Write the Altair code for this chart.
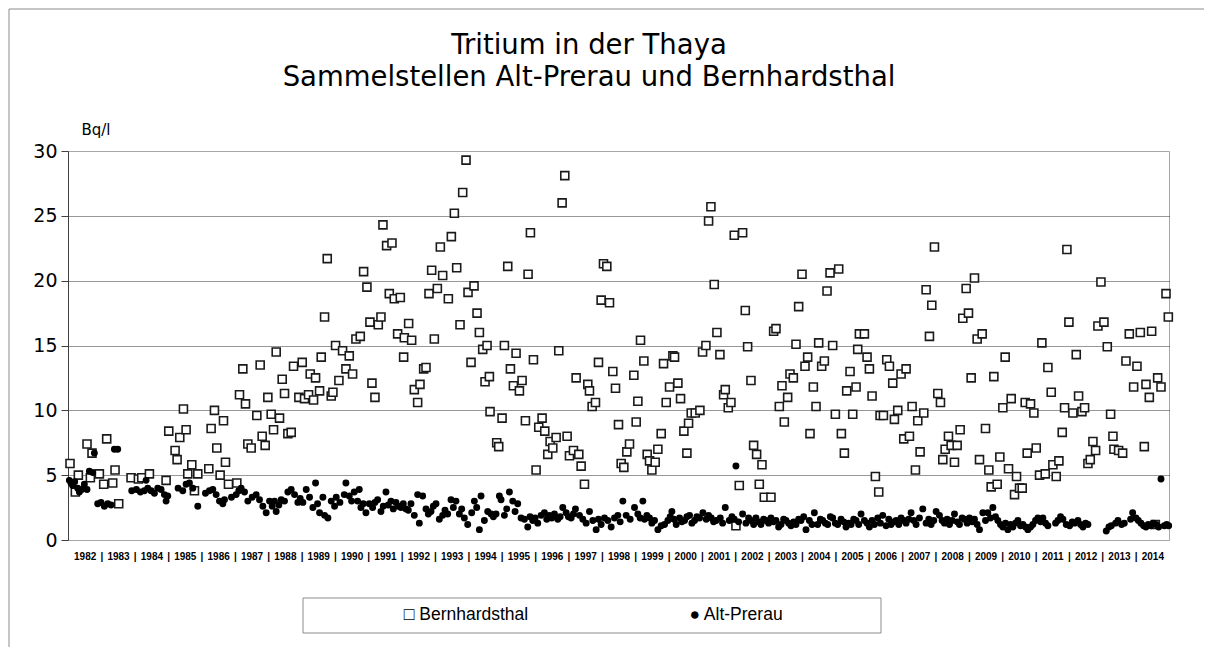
import altair as alt
import pandas as pd

# ---------------- data ----------------
bern_year = [
    1982.06, 1982.22, 1982.31, 1982.57, 1982.67, 1982.72, 1982.94, 1983.07, 1983.16, 1983.34,
    1983.41, 1983.52, 1983.89, 1984.11, 1984.21, 1984.44, 1984.94, 1985.02, 1985.21, 1985.27,
    1985.35, 1985.46, 1985.54, 1985.59, 1985.71, 1985.79, 1985.89, 1986.22, 1986.29, 1986.39,
    1986.46, 1986.56, 1986.66, 1986.72, 1986.81, 1987.06, 1987.14, 1987.24, 1987.32, 1987.39,
    1987.49, 1987.66, 1987.76, 1987.82, 1987.91, 1987.99, 1988.09, 1988.16, 1988.24, 1988.34,
    1988.42, 1988.49, 1988.59, 1988.69, 1988.76, 1988.92, 1989.02, 1989.09, 1989.21, 1989.26,
    1989.36, 1989.42, 1989.54, 1989.59, 1989.69, 1989.77, 1989.89, 1989.94, 1990.02, 1990.12,
    1990.23, 1990.33, 1990.43, 1990.53, 1990.63, 1990.76, 1990.86, 1990.96, 1991.05, 1991.11,
    1991.20, 1991.30, 1991.38, 1991.44, 1991.55, 1991.63, 1991.71, 1991.78, 1991.88, 1991.96,
    1992.06, 1992.08, 1992.21, 1992.30, 1992.38, 1992.48, 1992.55, 1992.66, 1992.73, 1992.82,
    1992.90, 1992.98, 1993.07, 1993.16, 1993.23, 1993.40, 1993.49, 1993.58, 1993.65, 1993.75,
    1993.83, 1993.93, 1993.99, 1994.08, 1994.17, 1994.26, 1994.33, 1994.43, 1994.50, 1994.56,
    1994.63, 1994.65, 1994.85, 1994.91, 1995.01, 1995.08, 1995.18, 1995.26, 1995.35, 1995.43,
    1995.53, 1995.61, 1995.71, 1995.79, 1995.86, 1995.95, 1996.03, 1996.11, 1996.21, 1996.29,
    1996.38, 1996.45, 1996.53, 1996.63, 1996.71, 1996.81, 1996.89, 1996.96, 1997.03, 1997.15,
    1997.23, 1997.31, 1997.38, 1997.48, 1997.58, 1997.63, 1997.71, 1997.81, 1997.90, 1997.98,
    1998.05, 1998.15, 1998.23, 1998.33, 1998.41, 1998.50, 1998.58, 1998.66, 1998.75, 1998.83,
    1998.96, 1999.03, 1999.08, 1999.16, 1999.26, 1999.36, 1999.43, 1999.50, 1999.60, 1999.68,
    1999.78, 1999.85, 1999.93, 2000.03, 2000.13, 2000.18, 2000.28, 2000.36, 2000.46, 2000.55,
    2000.60, 2000.68, 2000.80, 2000.94, 2001.02, 2001.12, 2001.20, 2001.27, 2001.37, 2001.45,
    2001.54, 2001.65, 2001.70, 2001.79, 2001.87, 2001.97, 2002.02, 2002.12, 2002.22, 2002.30,
    2002.37, 2002.47, 2002.55, 2002.64, 2002.72, 2002.80, 2002.87, 2003.07, 2003.15, 2003.22,
    2003.32, 2003.40, 2003.47, 2003.57, 2003.64, 2003.74, 2003.82, 2003.90, 2004.00, 2004.09,
    2004.17, 2004.24, 2004.34, 2004.42, 2004.50, 2004.59, 2004.67, 2004.75, 2004.84, 2004.92,
    2005.00, 2005.10, 2005.18, 2005.27, 2005.34, 2005.44, 2005.52, 2005.62, 2005.67, 2005.72,
    2005.87, 2005.95, 2006.02, 2006.10, 2006.20, 2006.30, 2006.34, 2006.44, 2006.54, 2006.62,
    2006.72, 2006.77, 2006.87, 2006.97, 2007.05, 2007.12, 2007.22, 2007.30, 2007.40, 2007.47,
    2007.54, 2007.65, 2007.72, 2007.82, 2007.89, 2007.97, 2008.07, 2008.15, 2008.22, 2008.29,
    2008.39, 2008.47, 2008.57, 2008.65, 2008.74, 2008.82, 2008.92, 2008.99, 2009.07, 2009.17,
    2009.25, 2009.32, 2009.40, 2009.50, 2009.60, 2009.67, 2009.75, 2009.85, 2009.93, 2010.02,
    2010.09, 2010.19, 2010.27, 2010.37, 2010.43, 2010.52, 2010.60, 2010.69, 2010.75, 2010.85,
    2010.95, 2011.02, 2011.12, 2011.19, 2011.29, 2011.37, 2011.47, 2011.52, 2011.62, 2011.70,
    2011.80, 2011.87, 2011.94, 2012.00, 2012.12, 2012.22, 2012.29, 2012.39, 2012.47, 2012.57,
    2012.64, 2012.72, 2012.80, 2012.87, 2012.96, 2013.05, 2013.15, 2013.25, 2013.32, 2013.35,
    2013.49, 2013.61, 2013.71, 2013.81, 2013.94, 2014.04, 2014.14, 2014.26, 2014.31, 2014.41,
    2014.48, 2014.59, 2014.66, 2014.76, 2014.91, 2014.98,
]
bern_value = [
    5.9, 3.7, 5.0, 7.4, 4.8, 6.7, 5.1, 4.3, 7.8, 4.4,
    5.4, 2.8, 4.8, 4.7, 4.8, 5.1, 4.6, 8.4, 6.9, 6.2,
    7.9, 10.1, 8.5, 5.1, 5.8, 3.8, 5.1, 5.5, 8.6, 10.0,
    7.1, 5.0, 9.2, 6.0, 4.3, 4.4, 11.2, 13.2, 10.5, 7.4,
    7.1, 9.6, 13.5, 8.0, 7.3, 11.0, 9.7, 8.5, 14.5, 9.4,
    12.4, 11.3, 8.2, 8.3, 13.4, 11.0, 13.7, 10.9, 11.2, 12.8,
    10.8, 12.5, 11.5, 14.1, 17.2, 21.7, 11.1, 11.4, 15.0, 12.3,
    14.6, 13.2, 14.2, 12.8, 15.5, 15.7, 20.7, 19.5, 16.8, 12.1,
    11.0, 16.6, 17.2, 24.3, 22.7, 19.0, 22.9, 18.6, 15.9, 18.7,
    14.1, 15.6, 16.7, 15.4, 11.6, 10.6, 12.0, 13.2, 13.3, 19.0,
    20.8, 15.5, 19.4, 22.6, 20.4, 18.6, 23.4, 25.2, 21.0, 16.6,
    26.8, 29.3, 19.1, 13.7, 19.6, 17.5, 16.0, 14.7, 12.2, 15.0,
    12.6, 9.9, 7.5, 7.2, 9.4, 15.0, 21.1, 13.2, 11.9, 14.4,
    11.5, 12.3, 9.2, 20.5, 23.7, 13.9, 5.4, 8.7, 9.4, 8.4,
    6.6, 7.6, 7.1, 7.9, 14.6, 26.0, 28.1, 8.0, 6.5, 6.9,
    12.5, 6.6, 5.7, 4.3, 12.0, 11.5, 10.3, 10.6, 13.7, 18.5,
    21.3, 21.1, 18.3, 13.0, 11.7, 8.9, 5.9, 5.6, 6.8, 7.4,
    12.7, 9.1, 10.7, 15.4, 13.8, 6.6, 6.1, 5.4, 6.0, 7.0,
    8.2, 13.6, 10.6, 11.8, 14.2, 14.1, 12.1, 10.9, 8.4, 6.7,
    9.0, 9.8, 9.8, 10.0, 14.5, 15.0, 24.6, 25.7, 19.7, 16.0,
    14.3, 11.2, 11.6, 10.2, 10.6, 23.5, 1.1, 4.2, 23.7, 17.7,
    14.9, 12.3, 7.3, 6.6, 4.3, 5.8, 3.3, 3.3, 16.1, 16.3,
    10.3, 11.9, 9.1, 11.0, 12.8, 12.5, 15.1, 18.0, 20.5, 13.4,
    14.1, 8.2, 11.8, 10.3, 15.2, 13.4, 13.8, 19.2, 20.6, 15.0,
    9.7, 20.9, 8.2, 6.7, 11.5, 13.0, 9.7, 11.8, 14.7, 15.9,
    15.9, 14.1, 13.2, 11.1, 4.9, 3.7, 9.6, 9.6, 13.9, 13.4,
    12.1, 9.3, 10.0, 12.8, 7.8, 13.2, 8.0, 10.3, 5.4, 9.2,
    6.8, 9.8, 19.3, 15.7, 18.1, 22.6, 11.3, 10.6, 6.2, 7.0,
    8.0, 7.3, 6.0, 7.3, 8.5, 17.1, 19.4, 17.5, 12.5, 20.2,
    15.5, 6.2, 15.9, 8.6, 5.4, 4.1, 12.6, 4.3, 6.4, 10.2,
    14.1, 5.5, 10.9, 3.5, 4.9, 4.0, 4.0, 10.6, 6.7, 10.5,
    9.8, 7.1, 5.0, 15.2, 5.1, 13.3, 11.4, 5.8, 4.9, 6.1,
    8.3, 10.2, 22.4, 16.8, 9.8, 14.3, 11.1, 9.9, 10.2, 5.9,
    6.2, 7.6, 6.9, 16.5, 19.9, 16.8, 14.9, 9.7, 8.0, 7.0,
    6.9, 6.7, 13.8, 15.9, 11.8, 13.4, 16.0, 7.2, 12.0, 11.0,
    16.1, 1.2, 12.5, 11.8, 19.0, 17.2,
]

prerau_year = [
    1982.04, 1982.09, 1982.14, 1982.20, 1982.29, 1982.34, 1982.41, 1982.49, 1982.57, 1982.64,
    1982.74, 1982.79, 1982.89, 1982.99, 1983.09, 1983.19, 1983.29, 1983.39, 1983.49, 1983.91,
    1984.05, 1984.17, 1984.29, 1984.34, 1984.39, 1984.49, 1984.59, 1984.69, 1984.79, 1984.89,
    1984.94, 1984.99, 1985.30, 1985.44, 1985.54, 1985.64, 1985.74, 1985.89, 1986.12, 1986.24,
    1986.34, 1986.44, 1986.54, 1986.64, 1986.69, 1986.90, 1987.04, 1987.12, 1987.19, 1987.29,
    1987.39, 1987.52, 1987.64, 1987.74, 1987.84, 1987.94, 1988.04, 1988.12, 1988.19, 1988.24,
    1988.32, 1988.39, 1988.49, 1988.59, 1988.69, 1988.79, 1988.89, 1988.96, 1989.04, 1989.14,
    1989.24, 1989.34, 1989.42, 1989.48, 1989.54, 1989.64, 1989.69, 1989.79, 1989.89, 1989.99,
    1990.04, 1990.15, 1990.28, 1990.33, 1990.43, 1990.50, 1990.58, 1990.68, 1990.73, 1990.78,
    1990.85, 1990.93, 1991.03, 1991.13, 1991.20, 1991.28, 1991.38, 1991.45, 1991.53, 1991.60,
    1991.68, 1991.75, 1991.83, 1991.90, 1991.98, 1992.05, 1992.13, 1992.20, 1992.28, 1992.38,
    1992.48, 1992.53, 1992.63, 1992.73, 1992.80, 1992.88, 1992.95, 1993.03, 1993.13, 1993.23,
    1993.30, 1993.38, 1993.48, 1993.55, 1993.63, 1993.73, 1993.80, 1993.88, 1993.98, 1994.10,
    1994.18, 1994.25, 1994.33, 1994.38, 1994.48, 1994.58, 1994.68, 1994.75, 1994.83, 1994.93,
    1994.98, 1995.08, 1995.15, 1995.23, 1995.33, 1995.40, 1995.48, 1995.58, 1995.68, 1995.78,
    1995.85, 1995.93, 1996.00, 1996.08, 1996.18, 1996.28, 1996.35, 1996.43, 1996.50, 1996.58,
    1996.68, 1996.75, 1996.83, 1996.93, 1997.00, 1997.08, 1997.15, 1997.21, 1997.33, 1997.43,
    1997.53, 1997.63, 1997.73, 1997.83, 1997.90, 1997.98, 1998.08, 1998.18, 1998.28, 1998.38,
    1998.48, 1998.55, 1998.63, 1998.73, 1998.85, 1998.98, 1999.08, 1999.15, 1999.23, 1999.28,
    1999.35, 1999.43, 1999.50, 1999.58, 1999.68, 1999.78, 1999.88, 1999.98, 2000.05, 2000.10,
    2000.16, 2000.23, 2000.33, 2000.40, 2000.48, 2000.55, 2000.63, 2000.70, 2000.78, 2000.85,
    2000.93, 2001.03, 2001.13, 2001.20, 2001.28, 2001.35, 2001.43, 2001.55, 2001.62, 2001.70,
    2001.82, 2001.90, 2001.97, 2002.02, 2002.10, 2002.22, 2002.32, 2002.40, 2002.47, 2002.55,
    2002.62, 2002.70, 2002.77, 2002.85, 2002.92, 2003.00, 2003.07, 2003.15, 2003.22, 2003.30,
    2003.37, 2003.45, 2003.52, 2003.60, 2003.67, 2003.75, 2003.82, 2003.90, 2003.97, 2004.05,
    2004.12, 2004.22, 2004.30, 2004.37, 2004.47, 2004.55, 2004.62, 2004.70, 2004.77, 2004.85,
    2004.92, 2005.00, 2005.07, 2005.17, 2005.25, 2005.32, 2005.40, 2005.47, 2005.55, 2005.62,
    2005.70, 2005.77, 2005.87, 2005.95, 2006.02, 2006.10, 2006.17, 2006.27, 2006.35, 2006.42,
    2006.52, 2006.60, 2006.67, 2006.75, 2006.82, 2006.90, 2006.97, 2007.05, 2007.12, 2007.20,
    2007.27, 2007.35, 2007.42, 2007.52, 2007.62, 2007.72, 2007.80, 2007.87, 2007.95, 2008.02,
    2008.12, 2008.20, 2008.27, 2008.35, 2008.42, 2008.50, 2008.57, 2008.65, 2008.72, 2008.80,
    2008.87, 2008.95, 2009.02, 2009.10, 2009.17, 2009.25, 2009.32, 2009.42, 2009.50, 2009.57,
    2009.65, 2009.72, 2009.80, 2009.87, 2009.95, 2010.02, 2010.10, 2010.17, 2010.25, 2010.32,
    2010.40, 2010.47, 2010.55, 2010.62, 2010.70, 2010.77, 2010.85, 2010.92, 2011.00, 2011.07,
    2011.15, 2011.22, 2011.30, 2011.37, 2011.60, 2011.67, 2011.75, 2011.82, 2011.92, 2012.02,
    2012.10, 2012.17, 2012.27, 2012.35, 2012.42, 2012.50, 2012.57, 2013.12, 2013.20, 2013.27,
    2013.40, 2013.47, 2013.58, 2013.66, 2013.85, 2013.91, 2014.01, 2014.08, 2014.16, 2014.24,
    2014.31, 2014.38, 2014.46, 2014.53, 2014.61, 2014.69, 2014.76, 2014.86, 2014.93, 2014.99,
]
prerau_value = [
    4.6, 4.4, 4.2, 4.5, 4.0, 3.7, 3.9, 4.3, 3.9, 5.3,
    5.2, 6.7, 2.8, 2.9, 2.6, 2.8, 2.7, 7.0, 7.0, 3.8,
    3.9, 3.7, 3.8, 4.6, 4.0, 3.8, 3.6, 4.0, 3.9, 3.5,
    3.0, 3.4, 4.0, 3.8, 4.3, 4.4, 4.0, 2.6, 3.6, 3.8,
    3.9, 3.5, 3.0, 2.8, 3.1, 3.3, 3.5, 3.8, 4.0, 3.7,
    3.0, 3.3, 3.5, 3.1, 2.6, 2.1, 3.0, 2.6, 3.0, 2.2,
    2.7, 3.1, 3.0, 3.7, 3.9, 3.5, 2.9, 3.2, 2.9, 3.9,
    3.3, 2.5, 4.4, 2.8, 2.1, 3.3, 1.9, 1.7, 3.0, 2.6,
    3.3, 2.9, 3.5, 4.4, 3.4, 3.0, 3.7, 3.0, 3.9, 2.5,
    2.8, 2.1, 2.8, 2.5, 2.9, 3.1, 2.2, 2.6, 3.7, 2.7,
    3.0, 2.4, 2.9, 2.6, 2.5, 2.8, 2.4, 2.3, 2.8, 1.9,
    3.5, 1.3, 3.4, 2.4, 2.0, 2.2, 2.6, 2.8, 1.6, 1.9,
    2.3, 2.0, 3.1, 2.5, 3.0, 2.0, 2.4, 1.7, 1.2, 2.1,
    3.0, 2.5, 0.8, 3.4, 1.5, 2.2, 2.0, 1.8, 2.0, 3.4,
    3.1, 1.9, 2.4, 3.7, 3.0, 2.2, 2.8, 1.7, 1.6, 1.0,
    1.8, 1.5, 1.7, 1.3, 1.9, 2.1, 1.6, 1.9, 1.7, 2.0,
    1.6, 1.8, 2.5, 2.1, 1.8, 1.7, 2.0, 2.4, 1.9, 1.6,
    1.3, 2.2, 1.5, 0.8, 1.6, 1.2, 1.7, 1.5, 1.0, 1.7,
    1.9, 1.4, 3.0, 1.9, 1.6, 2.5, 2.0, 1.7, 3.0, 1.6,
    1.9, 1.7, 1.3, 1.5, 0.8, 1.1, 1.2, 1.5, 1.8, 2.2,
    1.6, 1.2, 1.7, 1.4, 1.5, 1.8, 1.9, 1.3, 1.5, 1.8,
    1.7, 2.1, 1.6, 1.9, 1.7, 1.4, 1.5, 1.7, 1.3, 2.5,
    1.5, 1.8, 1.6, 5.7, 1.4, 2.0, 1.3, 1.7, 1.5, 1.2,
    1.7, 1.4, 1.2, 1.6, 1.5, 1.3, 1.7, 1.4, 1.5, 1.0,
    1.2, 1.6, 1.5, 1.3, 1.1, 1.4, 1.2, 1.6, 1.5, 1.8,
    0.8, 1.5, 1.2, 2.1, 1.2, 1.6, 1.5, 1.3, 1.2, 1.8,
    1.7, 1.3, 1.2, 1.6, 1.4, 1.0, 1.3, 1.2, 1.6, 1.5,
    1.2, 2.0, 1.5, 1.3, 1.0, 1.5, 1.2, 1.7, 1.3, 1.9,
    1.1, 1.6, 1.2, 1.4, 1.5, 1.2, 1.7, 1.5, 1.3, 1.6,
    2.1, 1.5, 1.2, 1.7, 2.4, 1.3, 1.6, 1.2, 1.5, 2.2,
    1.9, 1.5, 1.3, 1.6, 1.2, 1.5, 2.0, 1.4, 1.2, 1.7,
    1.6, 1.3, 1.7, 1.4, 1.6, 1.2, 0.8, 2.1, 1.5, 2.1,
    1.7, 2.5, 1.8, 1.5, 1.2, 1.0, 1.3, 0.8, 1.2, 1.0,
    1.3, 1.5, 1.1, 1.2, 1.0, 0.8, 1.0, 1.2, 1.5, 1.7,
    1.4, 1.7, 1.3, 1.1, 1.3, 1.5, 1.8, 1.6, 1.2, 1.1,
    1.4, 1.3, 1.5, 1.2, 1.0, 1.3, 1.2, 0.7, 1.0, 1.1,
    1.3, 1.5, 1.2, 1.3, 1.6, 2.1, 1.7, 1.5, 1.3, 1.1,
    1.0, 1.2, 1.1, 1.3, 1.2, 1.0, 4.7, 1.1, 1.2, 1.1,
]

title_lines = ["Tritium in der Thaya", "Sammelstellen Alt-Prerau und Bernhardsthal"]
series_names = ["Bernhardsthal", "Alt-Prerau"]
legend_texts = ["\u25a1 Bernhardsthal", "\u25cf Alt-Prerau"]
y_ticks = [0, 5, 10, 15, 20, 25, 30]
years = list(range(1982, 2015))

# ---------------- layout constants ----------------
W, H = 1101, 389

bern = pd.DataFrame({"Jahr": bern_year, "Wert": bern_value, "Serie": series_names[0]})
prerau = pd.DataFrame({"Jahr": prerau_year, "Wert": prerau_value, "Serie": series_names[1]})
one = pd.DataFrame({"k": [0]})

x_tick_values = [y + 0.5 for y in years] + [float(y) for y in years[1:]]

x_enc = alt.X(
    "Jahr:Q",
    scale=alt.Scale(domain=[1982, 2015], nice=False, zero=False),
    axis=alt.Axis(
        values=x_tick_values,
        labelExpr="datum.value % 1 == 0 ? '|' : format(floor(datum.value), 'd')",
        ticks=False,
        grid=False,
        domainColor="#a6a6a6",
        domainWidth=1,
        labelFont="Liberation Sans",
        labelFontWeight="bold",
        labelFontSize=10,
        labelColor="#000000",
        labelPadding=11,
        labelOverlap=False,
        labelFlush=False,
        labelBound=False,
        labelAngle=0,
        title=None,
    ),
)

y_enc = alt.Y(
    "Wert:Q",
    scale=alt.Scale(domain=[0, 30], nice=False, zero=True),
    axis=alt.Axis(
        values=y_ticks,
        tickSize=7,
        tickColor="#404040",
        domainColor="#404040",
        labelFont="DejaVu Sans",
        labelFontSize=19,
        labelColor="#000000",
        labelPadding=4,
        gridColor="#303030",
        gridDash=[1, 1],
        gridWidth=1,
        gridOpacity={"condition": {"test": "datum.value <= 0 || datum.value >= 30", "value": 0}, "value": 1},
        title="Bq/l",
        titleAngle=0,
        titleX=13,
        titleY=-22,
        titleAlign="left",
        titleBaseline="middle",
        titleFont="DejaVu Sans",
        titleFontSize=15,
        titleFontWeight="normal",
        titleColor="#000000",
    ),
)

squares = alt.Chart(bern).mark_point(
    shape="square", size=64, filled=True, fill="white", stroke="#1a1a1a",
    strokeWidth=1.6, opacity=1,
).encode(x=x_enc, y=y_enc)

dots = alt.Chart(prerau).mark_point(
    shape="circle", size=48, filled=True, color="#000000", opacity=1,
).encode(x=x_enc, y=y_enc)

# outer frame (left and top edges)
frame_left = alt.Chart(one).mark_rule(color="#8c8c8c", strokeWidth=1).encode(
    x=alt.value(-59), y=alt.value(-142), y2=alt.value(496)
)
frame_top = alt.Chart(one).mark_rule(color="#8c8c8c", strokeWidth=1).encode(
    x=alt.value(-59), x2=alt.value(1136), y=alt.value(-142)
)

# title
title1 = alt.Chart(one).mark_text(
    font="DejaVu Sans", fontSize=27.5, color="#000000", align="center", baseline="middle"
).encode(x=alt.value(521), y=alt.value(-105), text=alt.value(title_lines[0]))
title2 = alt.Chart(one).mark_text(
    font="DejaVu Sans", fontSize=27.5, color="#000000", align="center", baseline="middle"
).encode(x=alt.value(521), y=alt.value(-73), text=alt.value(title_lines[1]))

# legend box
legend_box = alt.Chart(one).mark_rect(fill="white", stroke="#8c8c8c", strokeWidth=1).encode(
    x=alt.value(235), x2=alt.value(813), y=alt.value(447), y2=alt.value(482)
)
legend1 = alt.Chart(one).mark_text(
    font="Liberation Sans", fontSize=17.5, color="#000000", align="center", baseline="middle"
).encode(x=alt.value(398), y=alt.value(464), text=alt.value(legend_texts[0]))
legend2 = alt.Chart(one).mark_text(
    font="Liberation Sans", fontSize=17.5, color="#000000", align="center", baseline="middle"
).encode(x=alt.value(668), y=alt.value(464), text=alt.value(legend_texts[1]))

chart = alt.layer(
    frame_left, frame_top, squares, dots, title1, title2, legend_box, legend1, legend2
).properties(
    width=W, height=H, padding=0, background="white"
).configure_view(
    stroke="#a6a6a6", strokeWidth=1
)

chart.save("out.html", embed_options={"renderer": "svg", "actions": False})
